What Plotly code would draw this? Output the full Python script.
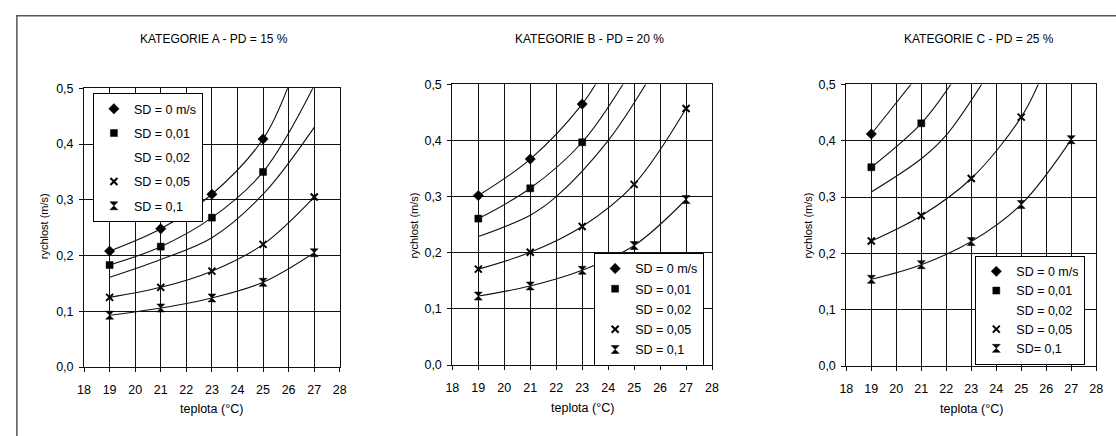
import plotly.graph_objects as go

# ---------------- data ----------------
TEMP = [19, 21, 23, 25, 27]
X_TICKS = [18, 19, 20, 21, 22, 23, 24, 25, 26, 27, 28]
Y_TICKS = [0.0, 0.1, 0.2, 0.3, 0.4, 0.5]

TITLES = ["KATEGORIE A - PD = 15 %", "KATEGORIE B - PD = 20 %", "KATEGORIE C - PD = 25 %"]
X_TITLE = "teplota (°C)"
Y_TITLE = "rychlost (m/s)"
NAMES_AB = ["SD = 0 m/s", "SD = 0,01", "SD = 0,02", "SD = 0,05", "SD = 0,1"]
NAMES_C = ["SD = 0 m/s", "SD = 0,01", "SD = 0,02", "SD = 0,05", "SD= 0,1"]

# measured points at TEMP (None = no point)
A_SD0 = [0.208, 0.248, 0.310, 0.409, None]
A_SD001 = [0.183, 0.216, 0.268, 0.350, None]
A_SD002 = [None, None, None, None, None]
A_SD005 = [0.125, 0.143, 0.172, 0.220, 0.305]
A_SD01 = [0.093, 0.106, 0.124, 0.152, 0.205]

B_SD0 = [0.302, 0.367, 0.465, None, None]
B_SD001 = [0.261, 0.315, 0.397, None, None]
B_SD002 = [None, None, None, None, None]
B_SD005 = [0.171, 0.201, 0.247, 0.322, 0.457]
B_SD01 = [0.123, 0.141, 0.169, 0.213, 0.295]

C_SD0 = [0.412, None, None, None, None]
C_SD001 = [0.353, 0.431, None, None, None]
C_SD002 = [None, None, None, None, None]
C_SD005 = [0.222, 0.267, 0.333, 0.442, None]
C_SD01 = [0.154, 0.180, 0.221, 0.287, 0.402]

# trend curves (they run off the top of the axes)
A_T0_X, A_T0_Y = [19, 21, 23, 25, 26], [0.208, 0.248, 0.310, 0.409, 0.505]
A_T001_X, A_T001_Y = [19, 21, 23, 25, 27], [0.183, 0.216, 0.268, 0.350, 0.505]
A_T002_X, A_T002_Y = [19, 21, 23, 25, 27], [0.161, 0.193, 0.232, 0.310, 0.430]
A_T005_X, A_T005_Y = [19, 21, 23, 25, 27], [0.125, 0.143, 0.172, 0.220, 0.305]
A_T01_X, A_T01_Y = [19, 21, 23, 25, 27], [0.093, 0.106, 0.124, 0.152, 0.205]

B_T0_X, B_T0_Y = [19, 21, 23, 23.7], [0.302, 0.367, 0.465, 0.515]
B_T001_X, B_T001_Y = [19, 21, 23, 24.7], [0.261, 0.315, 0.397, 0.510]
B_T002_X, B_T002_Y = [19, 21, 22, 24, 25.6], [0.229, 0.267, 0.300, 0.400, 0.512]
B_T005_X, B_T005_Y = [19, 21, 23, 25, 27], [0.171, 0.201, 0.247, 0.322, 0.457]
B_T01_X, B_T01_Y = [19, 21, 23, 25, 27], [0.123, 0.141, 0.169, 0.213, 0.295]

C_T0_X, C_T0_Y = [19, 20.8], [0.412, 0.512]
C_T001_X, C_T001_Y = [19, 21, 22.3], [0.353, 0.431, 0.508]
C_T002_X, C_T002_Y = [19, 21, 22, 23.5], [0.309, 0.368, 0.410, 0.506]
C_T005_X, C_T005_Y = [19, 21, 23, 25, 25.8], [0.222, 0.267, 0.333, 0.442, 0.512]
C_T01_X, C_T01_Y = [19, 21, 23, 25, 27], [0.154, 0.180, 0.221, 0.287, 0.402]

PANELS = [
    dict(points=[A_SD0, A_SD001, A_SD002, A_SD005, A_SD01],
         trends=[(A_T0_X, A_T0_Y), (A_T001_X, A_T001_Y), (A_T002_X, A_T002_Y),
                 (A_T005_X, A_T005_Y), (A_T01_X, A_T01_Y)],
         names=NAMES_AB),
    dict(points=[B_SD0, B_SD001, B_SD002, B_SD005, B_SD01],
         trends=[(B_T0_X, B_T0_Y), (B_T001_X, B_T001_Y), (B_T002_X, B_T002_Y),
                 (B_T005_X, B_T005_Y), (B_T01_X, B_T01_Y)],
         names=NAMES_AB),
    dict(points=[C_SD0, C_SD001, C_SD002, C_SD005, C_SD01],
         trends=[(C_T0_X, C_T0_Y), (C_T001_X, C_T001_Y), (C_T002_X, C_T002_Y),
                 (C_T005_X, C_T005_Y), (C_T01_X, C_T01_Y)],
         names=NAMES_C),
]

# ---------------- styling / layout ----------------
W, H = 1116, 436
FONT = "Liberation Sans, Arial, sans-serif"
SYMBOLS = ["diamond", "square", "circle", "x-thin", "hourglass"]
SIZES = [8, 7, 7, 7, 8]
# plot areas in pixels: left, right, top, bottom
AREAS = [(78, 337, 84, 372), (451, 714, 80, 370), (850, 1103, 80, 371)]
TITLE_POS = [(210, 33), (590, 33), (984, 33)]
XTITLE_POS = [(207, 415), (583, 414), (977, 415)]
YTITLE_POS = [(37, 227), (412, 226), (811, 226)]
LEGENDS = [
    dict(x=87 / W, y=1 - 89 / H, xanchor="left", yanchor="top", tracegroupgap=5),
    dict(x=706 / W, y=1 - 254 / H, xanchor="right", yanchor="top", tracegroupgap=1),
    dict(x=1092 / W, y=1 - 257 / H, xanchor="right", yanchor="top", tracegroupgap=0),
]

fig = go.Figure()

for p, panel in enumerate(PANELS):
    xa = "x" if p == 0 else f"x{p + 1}"
    ya = "y" if p == 0 else f"y{p + 1}"
    leg = "legend" if p == 0 else f"legend{p + 1}"
    # marker traces (legend entries)
    for s, (pts, name) in enumerate(zip(panel["points"], panel["names"])):
        no_marker = all(v is None for v in pts)
        thin = SYMBOLS[s].endswith("thin")
        fig.add_trace(go.Scatter(
            x=TEMP if not no_marker else [None],
            y=pts if not no_marker else [None],
            mode="markers", name=name, legend=leg,
            legendgroup=f"{p}-{s}", xaxis=xa, yaxis=ya,
            marker=dict(symbol=SYMBOLS[s], size=SIZES[s],
                        color="rgba(0,0,0,0)" if no_marker else "black",
                        line=dict(width=(2 if thin else 0.5) if not no_marker else 0,
                                  color="black")),
            cliponaxis=False,
        ))
    # trend curves
    for s, (tx, ty) in enumerate(panel["trends"]):
        fig.add_trace(go.Scatter(
            x=tx, y=ty, mode="lines", showlegend=False,
            xaxis=xa, yaxis=ya,
            line=dict(color="#111", width=1.1, shape="spline", smoothing=1),
            hoverinfo="skip",
        ))

layout = dict(
    width=W, height=H,
    margin=dict(l=0, r=0, t=0, b=0),
    paper_bgcolor="white", plot_bgcolor="white",
    separators=", ",
    font=dict(family=FONT, size=12, color="black"),
    showlegend=True,
)

for p, (l, r, t, b) in enumerate(AREAS):
    xk = "xaxis" if p == 0 else f"xaxis{p + 1}"
    yk = "yaxis" if p == 0 else f"yaxis{p + 1}"
    ya = "y" if p == 0 else f"y{p + 1}"
    xa = "x" if p == 0 else f"x{p + 1}"
    layout[xk] = dict(
        domain=[l / W, r / W], anchor=ya, range=[18, 28],
        tickmode="array", tickvals=X_TICKS, ticktext=[str(v) for v in X_TICKS],
        showgrid=True, gridcolor="#111", gridwidth=1,
        showline=True, linecolor="#111", linewidth=1, mirror=True,
        ticks="outside", ticklen=4, tickcolor="#111",
        ticklabelstandoff=7, zeroline=False,
        tickfont=dict(family=FONT, size=12.5, color="black"),
    )
    layout[yk] = dict(
        domain=[1 - b / H, 1 - t / H], anchor=xa, range=[0, 0.5],
        tickmode="array", tickvals=Y_TICKS, tickformat=".1f",
        showgrid=True, gridcolor="#111", gridwidth=1,
        showline=True, linecolor="#111", linewidth=1, mirror=True,
        ticks="outside", ticklen=4, tickcolor="#111",
        ticklabelstandoff=3, zeroline=False,
        tickfont=dict(family=FONT, size=12.5, color="black"),
    )
    lk = "legend" if p == 0 else f"legend{p + 1}"
    layout[lk] = dict(
        LEGENDS[p], bgcolor="white", bordercolor="black", borderwidth=1,
        font=dict(family=FONT, size=12.5, color="black"),
        itemwidth=30, traceorder="grouped", itemclick=False,
    )

fig.update_layout(**layout)

annotations = []
for p in range(3):
    tx, ty = TITLE_POS[p]
    annotations.append(dict(text=TITLES[p], x=tx / W, y=1 - ty / H, xref="paper", yref="paper",
                            showarrow=False, xanchor="center", yanchor="middle",
                            font=dict(family=FONT, size=12, color="black")))
    tx, ty = XTITLE_POS[p]
    annotations.append(dict(text=X_TITLE, x=tx / W, y=1 - ty / H, xref="paper", yref="paper",
                            showarrow=False, xanchor="center", yanchor="middle",
                            font=dict(family=FONT, size=12.5, color="black")))
    tx, ty = YTITLE_POS[p]
    annotations.append(dict(text=Y_TITLE, x=tx / W, y=1 - ty / H, xref="paper", yref="paper",
                            showarrow=False, xanchor="center", yanchor="middle", textangle=-90,
                            font=dict(family=FONT, size=11, color="black")))
fig.update_layout(annotations=annotations)

# outer frame of the scanned page (top and left edges visible)
fig.add_shape(type="rect", xref="paper", yref="paper",
              x0=10 / W, x1=1.02, y0=-0.05, y1=1 - 9 / H,
              line=dict(color="#555", width=1.5), layer="below")

fig.write_html(
    "out.html",
    config={"displayModeBar": False, "staticPlot": False},
    post_script="document.body.style.margin='0';document.body.style.padding='0';"
                "document.body.style.overflow='hidden';",
)
